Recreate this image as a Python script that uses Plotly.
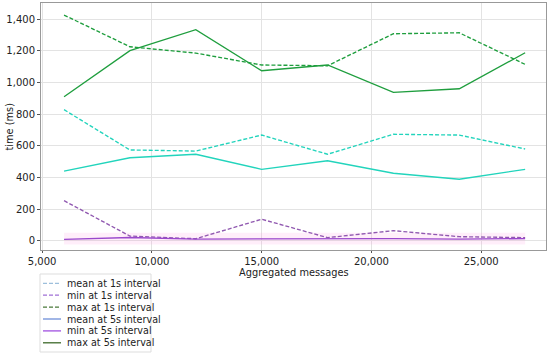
import plotly.graph_objects as go

# ---- data ----
messages = [6000, 9000, 12000, 15000, 18000, 21000, 24000, 27000]
mean_1s = [828, 574, 567, 668, 547, 673, 668, 580]
min_1s = [254, 31, 14, 137, 21, 65, 27, 21]
max_1s = [1425, 1225, 1185, 1110, 1105, 1307, 1313, 1114]
mean_5s = [441, 525, 547, 452, 506, 427, 389, 452]
min_5s = [10, 22, 12, 13, 18, 15, 12, 15]
max_5s = [910, 1200, 1333, 1074, 1110, 937, 960, 1187]
min_5s_band_lo = [-22, -22, -22, -22, -22, -22, -22, -22]
min_5s_band_hi = [52, 52, 52, 52, 52, 52, 52, 52]

legend_labels = ["mean at 1s interval", "min at 1s interval", "max at 1s interval",
                 "mean at 5s interval", "min at 5s interval", "max at 5s interval"]
legend_colors = ["#9dbfdc", "#a070d6", "#4a7a3a", "#6f8fd8", "#a050e0", "#3d6a2a"]
legend_dash = [True, True, True, False, False, False]

CYAN = "#22d4bc"
PURPLE_D = "#9058b0"
PURPLE = "#9a48cc"
GREEN = "#1f9e3e"
DASH = "4px,2px"

fig = go.Figure()

# pink band around min at 5s
fig.add_trace(go.Scatter(x=messages, y=min_5s_band_lo, mode="lines",
                         line=dict(width=0), showlegend=False, hoverinfo="skip"))
fig.add_trace(go.Scatter(x=messages, y=min_5s_band_hi, mode="lines",
                         line=dict(width=0), fill="tonexty",
                         fillcolor="rgba(255,120,220,0.13)", showlegend=False, hoverinfo="skip"))

def add(y, color, dashed, width=1.35):
    fig.add_trace(go.Scatter(x=messages, y=y, mode="lines", showlegend=False,
                             line=dict(color=color, width=width,
                                       dash=DASH if dashed else "solid")))

add(mean_1s, CYAN, True)
add(min_1s, PURPLE_D, True)
add(max_1s, GREEN, True)
add(mean_5s, CYAN, False)
add(min_5s, PURPLE, False)
add(max_5s, GREEN, False)

# ---- manual legend and axis titles (paper coords) ----
L, R, T, B = 41, 546, 3, 250
W, H = R - L, B - T
def px(x): return (x - L) / W
def py(y): return (B - y) / H

TXT = "#222222"
shapes = []
annotations = []
shapes.append(dict(type="rect", xref="paper", yref="paper",
                   x0=px(40), x1=px(151), y0=py(352), y1=py(274),
                   line=dict(color="#dddddd", width=1), fillcolor="white", layer="above"))
row0, step = 283.3, 11.9
for i, (lab, col, d) in enumerate(zip(legend_labels, legend_colors, legend_dash)):
    yy = row0 + i * step
    shapes.append(dict(type="line", xref="paper", yref="paper",
                       x0=px(43), x1=px(61), y0=py(yy), y1=py(yy),
                       line=dict(color=col, width=1.3, dash=DASH if d else "solid"),
                       layer="above"))
    annotations.append(dict(text=lab, xref="paper", yref="paper", x=px(66), y=py(yy),
                            xanchor="left", yanchor="middle", showarrow=False, borderpad=0,
                            font=dict(family="DejaVu Sans", size=9.6, color=TXT)))

annotations.append(dict(text="Aggregated messages", xref="paper", yref="paper",
                        x=px(294), y=py(272), xanchor="center", yanchor="middle",
                        showarrow=False, borderpad=0,
                        font=dict(family="DejaVu Sans", size=9.8, color=TXT)))
annotations.append(dict(text="time (ms)", xref="paper", yref="paper",
                        x=px(8.5), y=py(127), xanchor="center", yanchor="middle",
                        textangle=-90, showarrow=False, borderpad=0,
                        font=dict(family="DejaVu Sans", size=9.8, color=TXT)))

fig.update_layout(
    width=550, height=356,
    margin=dict(l=L, r=550 - R, t=T, b=356 - B, autoexpand=False),
    paper_bgcolor="white", plot_bgcolor="white",
    font=dict(family="DejaVu Sans", size=10, color=TXT),
    shapes=shapes, annotations=annotations,
    showlegend=False,
)
fig.update_xaxes(range=[4950, 27950], tickvals=[5000, 10000, 15000, 20000, 25000],
                 tickformat=",d", showgrid=True, gridcolor="#e3e3e3", gridwidth=1,
                 showline=True, linecolor="#999999", linewidth=1, mirror=True,
                 ticks="outside", ticklen=2, tickcolor="#555555", zeroline=False,
                 automargin=False, tickfont=dict(size=10))
fig.update_yaxes(range=[-57, 1501], tickvals=[0, 200, 400, 600, 800, 1000, 1200, 1400],
                 tickformat=",d", showgrid=True, gridcolor="#e3e3e3", gridwidth=1,
                 showline=True, linecolor="#999999", linewidth=1, mirror=True,
                 ticks="outside", ticklen=3, tickcolor="#555555", zeroline=False,
                 automargin=False, tickfont=dict(size=10))

fig.write_html("out.html", config={"displayModeBar": False},
               post_script="document.body.style.margin='0';document.body.style.overflow='hidden';")
